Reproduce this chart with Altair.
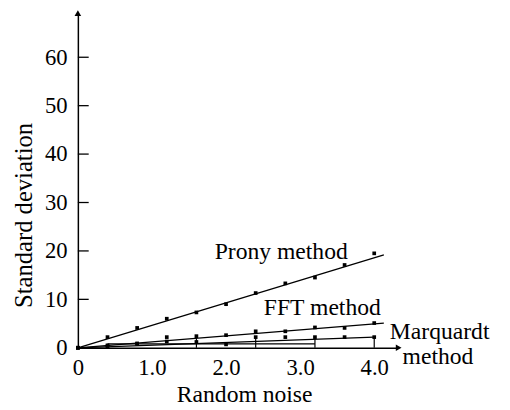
import altair as alt
import pandas as pd

# ---- data ----
noise = [0, 0.4, 0.8, 1.2, 1.6, 2.0, 2.4, 2.8, 3.2, 3.6, 4.0]
prony = [0, 2.2, 4.1, 6.0, 7.3, 9.0, 11.3, 13.3, 14.5, 17.1, 19.5]
fft = [0, 0.3, 0.8, 2.2, 2.4, 2.6, 3.4, 3.4, 4.2, 4.1, 5.1]
marquardt = [0, 0.5, 0.9, 1.3, 1.2, 0.7, 2.2, 2.2, 2.2, 2.2, 2.2]

fit_x = [0, 4.13]
prony_fit = [0, 19.2]
fft_fit = [0, 5.1]
marq_fit_x = [0, 4.0]
marq_fit = [0, 2.2]
marq_low_x = [0.4, 3.2]
marq_low = [0.8, 0.8]
marq_drop_x = [1.6, 2.4, 3.2, 4.0]
marq_drop_top = [2.2, 2.4, 2.2, 2.2]

y_ticks = [0, 10, 20, 30, 40, 50, 60]
x_ticks = [0, 1, 2, 3, 4]
x_max = 4.33
y_max = 69.1

FONT = "Liberation Serif"

pts = pd.DataFrame({
    "x": noise * 3,
    "y": prony + fft + marquardt,
    "s": ["Prony"] * 11 + ["FFT"] * 11 + ["Marquardt"] * 11,
})
fits = pd.DataFrame({
    "x": fit_x + fit_x + marq_fit_x + marq_low_x,
    "y": prony_fit + fft_fit + marq_fit + marq_low,
    "s": ["P", "P", "F", "F", "M", "M", "L", "L"],
})
drops = pd.DataFrame({"x": marq_drop_x, "y": [0] * 4, "y2": marq_drop_top})
ticks = pd.DataFrame({"y": y_ticks})

xs = alt.Scale(domain=[0, x_max], nice=False, zero=False)
ys = alt.Scale(domain=[0, y_max], nice=False, zero=False)

xaxis = alt.Axis(values=x_ticks, ticks=False, grid=False, domainColor="black",
                 domainWidth=1.5, labelFont=FONT, labelFontSize=23, labelColor="black",
                 labelPadding=9, labelFlush=False,
                 labelExpr="datum.value == 0 ? '0' : format(datum.value, '.1f')",
                 title="Random noise", titleFont=FONT, titleFontSize=24,
                 titleFontWeight="normal", titleColor="black",
                 titleX=169, titleY=48, titleBaseline="middle", titleAlign="center")
yaxis = alt.Axis(values=y_ticks, ticks=False, grid=False, domainColor="black",
                 domainWidth=1.5, labelFont=FONT, labelFontSize=23, labelColor="black",
                 labelPadding=11, labelFlush=False, labelBaseline="middle",
                 title="Standard deviation", titleFont=FONT, titleFontSize=25,
                 titleFontWeight="normal", titleColor="black",
                 titleX=-55, titleY=205, titleAngle=270,
                 titleBaseline="middle", titleAlign="center")

base_pts = alt.Chart(pts).mark_square(size=14, color="black", opacity=1).encode(
    x=alt.X("x:Q", scale=xs, axis=xaxis),
    y=alt.Y("y:Q", scale=ys, axis=yaxis),
)

lines = alt.Chart(fits).mark_line(color="black", strokeWidth=1.3).encode(
    x=alt.X("x:Q", scale=xs), y=alt.Y("y:Q", scale=ys), detail="s:N")

drop_rules = alt.Chart(drops).mark_rule(color="black", strokeWidth=1.2).encode(
    x=alt.X("x:Q", scale=xs), y=alt.Y("y:Q", scale=ys), y2="y2:Q")

tick_rules = alt.Chart(ticks).mark_rule(color="black", strokeWidth=1.3).encode(
    x=alt.value(0), x2=alt.value(11), y=alt.Y("y:Q", scale=ys))

arrow_up = alt.Chart(pd.DataFrame({"x": [0], "y": [y_max]})).mark_point(
    shape="triangle-up", filled=True, size=45, color="black", opacity=1).encode(
    x=alt.X("x:Q", scale=xs), y=alt.Y("y:Q", scale=ys))
arrow_right = alt.Chart(pd.DataFrame({"x": [x_max], "y": [0]})).mark_point(
    shape="triangle-right", filled=True, size=45, color="black", opacity=1).encode(
    x=alt.X("x:Q", scale=xs), y=alt.Y("y:Q", scale=ys))

labels = pd.DataFrame({
    "t": ["Prony method", "FFT method", "Marquardt", "method"],
    "px": [139, 189, 317, 330],
    "py": [243, 300, 324, 350],
})
texts = alt.Chart(labels).mark_text(font=FONT, fontSize=24, color="black",
                                    align="left", baseline="middle").encode(
    x=alt.X("px:Q", scale=None), y=alt.Y("py:Q", scale=None), text="t:N")

chart = alt.layer(lines, drop_rules, tick_rules, base_pts, arrow_up, arrow_right, texts).properties(
    width=326, height=340,
    autosize=alt.AutoSizeParams(type="none"),
    padding={"left": 71, "top": 2, "right": 105, "bottom": 62},
    background="white",
).configure_view(stroke=None)

chart.save("out.html", embed_options={"renderer": "svg", "actions": False})
